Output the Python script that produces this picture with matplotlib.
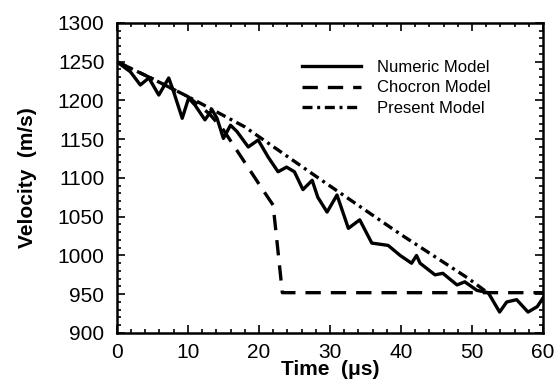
import matplotlib
matplotlib.use("Agg")
import matplotlib.pyplot as plt
from matplotlib.ticker import MultipleLocator

plt.rcParams['font.family'] = ['Liberation Sans', 'DejaVu Sans']

# Numeric Model
num_t = [0, 1.9, 3.3, 4.5, 5.9, 7.3, 8.0, 9.2, 10.1, 11.0, 12.4, 13.4, 14.1, 15.0,
         16.0, 16.9, 18.5, 19.9, 21.3, 22.7, 23.9, 25.0, 26.2, 27.5, 28.3, 29.6,
         31.0, 32.6, 34.2, 35.9, 38.2, 39.9, 41.5, 42.2, 42.7, 44.8, 45.9, 47.9,
         49.0, 50.7, 52.3, 53.9, 54.9, 56.3, 57.9, 59.2, 60.0]
num_v = [1250, 1237, 1220, 1229, 1207, 1229, 1211, 1177, 1203, 1194, 1175, 1188, 1177, 1151,
         1168, 1160, 1140, 1149, 1127, 1108, 1114, 1108, 1085, 1097, 1075, 1056,
         1078, 1035, 1046, 1016, 1013, 1000, 990, 1000, 990, 975, 977, 962,
         966, 955, 952, 927, 940, 943, 927, 934, 945]

# Chocron Model
cho_t = [0, 5, 10, 13, 15, 17.8, 20.6, 22.0, 22.5, 23.3, 60]
cho_v = [1250, 1228, 1205, 1183, 1162, 1123, 1084, 1065, 1022, 952, 952]

# Present Model
pre_t = [0, 5, 10, 18, 29, 40, 49.4, 52.5]
pre_v = [1250, 1228, 1205, 1166, 1096, 1027, 971, 950]

labels = ['Numeric Model', 'Chocron Model', 'Present Model']

fig = plt.figure(figsize=(5.54, 3.89), dpi=100)
ax = fig.add_axes([0.211, 0.144, 0.769, 0.797])

lw = 2.4
ax.plot(num_t, num_v, color='black', lw=lw, solid_joinstyle='round', label=labels[0])
ax.plot(cho_t, cho_v, color='black', lw=lw, linestyle=(0, (4.6, 3.0)), label=labels[1])
ax.plot(pre_t, pre_v, color='black', lw=lw, linestyle=(0, (3.0, 1.4, 0.9, 1.4)), label=labels[2])

ax.set_xlim(0, 60)
ax.set_ylim(900, 1300)
ax.xaxis.set_major_locator(MultipleLocator(10))
ax.xaxis.set_minor_locator(MultipleLocator(2))
ax.yaxis.set_major_locator(MultipleLocator(50))
ax.yaxis.set_minor_locator(MultipleLocator(10))
ax.tick_params(which='both', direction='in', top=True, right=True, labelsize=15, width=1.2)
ax.tick_params(axis='y', which='major', length=6, pad=9)
ax.tick_params(axis='x', which='major', length=6, pad=7)
ax.tick_params(which='minor', length=3)
for s in ax.spines.values():
    s.set_linewidth(1.8)

ax.set_xlabel('Time  (\u03bcs)', fontsize=15, fontweight='bold', labelpad=-1)
ax.set_ylabel('Velocity  (m/s)', fontsize=15, fontweight='bold', labelpad=15)

leg = ax.legend(loc='upper left', bbox_to_anchor=(0.40, 0.93), frameon=False,
                fontsize=12, handlelength=3.5, handletextpad=1.0, labelspacing=0.35)

fig.savefig('out.png', dpi=100)
